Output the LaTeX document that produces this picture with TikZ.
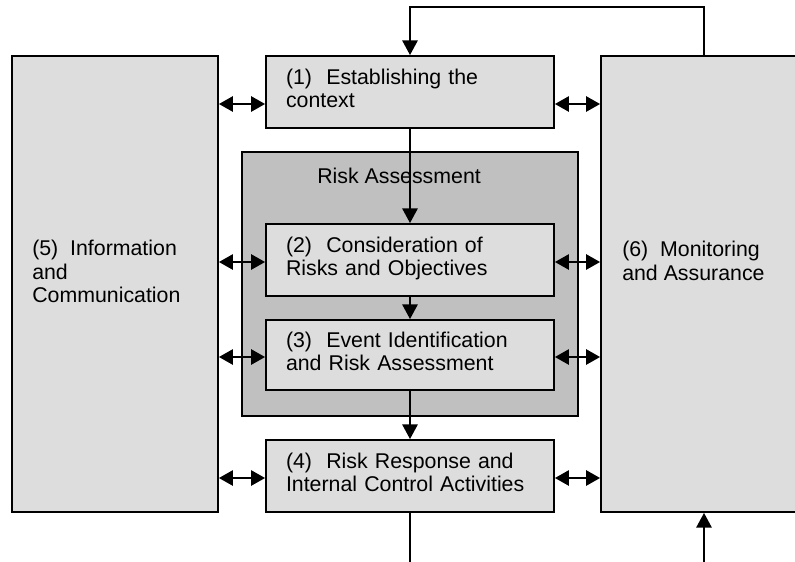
\documentclass[tikz,border=0pt]{standalone}
\usepackage{fontspec}
\setmainfont{Liberation Sans}
\usepackage{tikz}
\usetikzlibrary{arrows.meta}
\definecolor{erlight}{HTML}{DDDDDD}
\definecolor{ermid}{HTML}{C0C0C0}

\begin{document}
\begin{tikzpicture}[x=0.75pt,y=-0.75pt,
  every node/.style={font=\fontsize{16}{17.6}\selectfont},
  stepbox/.style={draw, line width=1.4pt, fill=erlight, text width=186pt,
    inner xsep=15pt, inner ysep=0pt, minimum height=54pt, align=left,
    execute at end node=\strut},
  sidebox/.style={draw, line width=1.4pt, fill=erlight,
    minimum width=154.5pt, minimum height=342pt},
  sidetext/.style={anchor=north west, inner sep=0pt, align=left},
  flow/.style={line width=1.3pt, -{Triangle[length=11pt,width=11.5pt]}},
  both/.style={line width=1.3pt,
    {Triangle[length=10.5pt,width=11.5pt]}-{Triangle[length=10.5pt,width=11.5pt]}}]
\useasboundingbox (0,0) rectangle (795,561);
\clip (0,0) rectangle (795,561);
% risk assessment block behind (2) and (3)
\node[draw, line width=1.4pt, fill=ermid, minimum width=252pt,
  minimum height=198pt] (ra) at (410,284) {};
\node[anchor=base west, inner sep=0pt] (ralab) at (317,183) {Risk Assessment};
% process steps
\node[stepbox] (est) at (410,92) {(1)~~Establishing the\\context};
\node[stepbox] (cons) at (410,260) {(2)~~Consideration of\\Risks and Objectives};
\node[stepbox, minimum height=52.5pt] (evt) at (410,355)
  {(3)~~Event Identification\\and Risk Assessment};
\node[stepbox] (resp) at (410,476)
  {(4)~~Risk Response and\\Internal Control Activities};
% side columns
\node[sidebox] (info) at (115,284) {};
\node[sidetext] (infotxt) at (32,240) {(5)~~Information\\and\\Communication};
\node[sidebox] (mon) at (704,284) {};
\node[sidetext] (montxt) at (622,241) {(6)~~Monitoring\\and Assurance};
% flow down the middle
\draw[flow] (est.south) -- (cons.north);
\draw[flow] (cons.south) -- (evt.north);
\draw[flow] (evt.south) -- (resp.north);
% feedback loop over the top, and the ends below
\coordinate (looptop) at (0,7);
\coordinate (bottom) at (0,575);
\draw[flow] (mon.north) |- (looptop -| est.north) -- (est.north);
\draw[line width=1.3pt] (resp.south) -- (resp.south |- bottom);
\draw[flow] (mon.south |- bottom) -- (mon.south);
% two-way links to the side columns
\foreach \b/\s in {est/-9pt,cons/-1.5pt,evt/-1.5pt,resp/-1.5pt}{
  \coordinate (\b-w) at ([yshift=\s]\b.west);
  \coordinate (\b-e) at ([yshift=\s]\b.east);
  \draw[both] (\b-w -| info.east) -- (\b-w);
  \draw[both] (\b-e) -- (\b-e -| mon.west);
}
\end{tikzpicture}
\end{document}
